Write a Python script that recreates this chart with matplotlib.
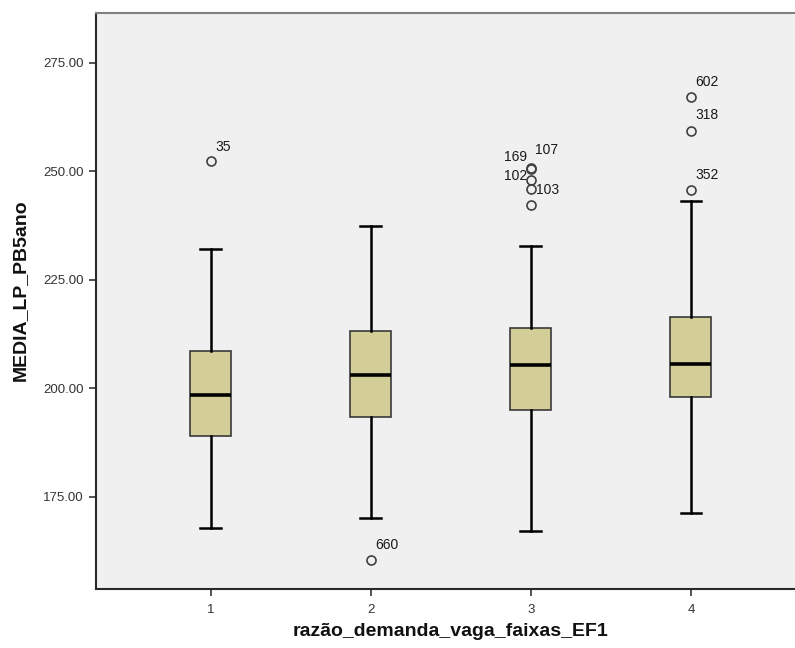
"""Boxplot de MEDIA_LP_PB5ano por faixa de razão demanda/vaga (estilo SPSS)."""

import matplotlib

matplotlib.use("Agg")
import matplotlib.pyplot as plt

plt.rcParams["font.family"] = ["Liberation Sans", "DejaVu Sans"]

# valores
categorias = [1, 2, 3, 4]
whisker_baixo = [167.9, 170.1, 167.2, 171.4]
q1 = [189.1, 193.5, 195.0, 198.1]
mediana = [198.5, 203.1, 205.3, 205.6]
q3 = [208.6, 213.2, 213.9, 216.4]
whisker_alto = [232.1, 237.5, 232.9, 243.3]
outliers = [
    [252.5],
    [160.4],
    [250.8, 250.5, 248.0, 246.0, 242.3],
    [267.1, 259.3, 245.7],
]
rotulos = [
    ["35"],
    ["660"],
    ["107", "169", "102", "103", ""],
    ["602", "318", "352"],
]
# deslocamento dos rótulos em pixels (dx, dy, alinhamento)
desloc = [
    [(5, 14, "left")],
    [(4, 15, "left")],
    [(4, 18, "left"), (-4, 12, "right"), (-4, 4, "right"), (5, -1, "left"), (0, 0, "left")],
    [(4, 15, "left"), (4, 16, "left"), (4, 15, "left")],
]

COR_CAIXA = "#d3ce97"
FUNDO = "#f0f0f0"

stats = []
for i, cat in enumerate(categorias):
    stats.append({
        "label": str(cat),
        "whislo": whisker_baixo[i],
        "q1": q1[i],
        "med": mediana[i],
        "q3": q3[i],
        "whishi": whisker_alto[i],
        "fliers": outliers[i],
    })

fig = plt.figure(figsize=(7.95, 6.48), dpi=100)
ax = fig.add_axes([95.5 / 795, 1 - 589 / 648, 1 - 95.5 / 795, (589 - 13) / 648])
ax.set_facecolor(FUNDO)

ax.bxp(
    stats,
    positions=categorias,
    widths=0.256,
    patch_artist=True,
    boxprops=dict(facecolor=COR_CAIXA, edgecolor="#3a3a3a", linewidth=1.2),
    medianprops=dict(color="black", linewidth=2.6),
    whiskerprops=dict(color="black", linewidth=1.8),
    capprops=dict(color="black", linewidth=1.8),
    capwidths=0.13,
    flierprops=dict(marker="o", markerfacecolor="none", markeredgecolor="#404040",
                    markersize=6.5, markeredgewidth=1.2),
)

for cat, vals, textos, offs in zip(categorias, outliers, rotulos, desloc):
    for v, t, (dx, dy, ha) in zip(vals, textos, offs):
        if not t:
            continue
        ax.annotate(t, (cat, v), xytext=(dx * 0.72, dy * 0.72), textcoords="offset points",
                    ha=ha, va="center", fontsize=10, color="#1a1a1a")

ax.set_xlim(0.28, 4.65)
ax.set_ylim(153.8, 286.5)
ax.set_yticks([175, 200, 225, 250, 275])
ax.set_yticklabels([f"{v:.2f}" for v in [175, 200, 225, 250, 275]])
ax.set_xticks(categorias)
ax.set_xticklabels([str(c) for c in categorias])
ax.tick_params(axis="both", direction="out", length=5, width=1.2, colors="#333333",
               labelsize=9.5, labelcolor="#333333")
ax.tick_params(axis="x", pad=6)

ax.spines["right"].set_visible(False)
ax.spines["top"].set_color("#808080")
ax.spines["top"].set_linewidth(1.5)
for lado in ("left", "bottom"):
    ax.spines[lado].set_color("#2a2a2a")
    ax.spines[lado].set_linewidth(1.5)

fig.text(451 / 795, 1 - 631 / 648, "razão_demanda_vaga_faixas_EF1", ha="center", va="center",
         fontsize=14, fontweight="bold", color="#111111")
fig.text(20 / 795, 1 - 290 / 648, "MEDIA_LP_PB5ano", ha="center", va="center", rotation=90,
         fontsize=14, fontweight="bold", color="#111111")

fig.savefig("out.png", dpi=100)
